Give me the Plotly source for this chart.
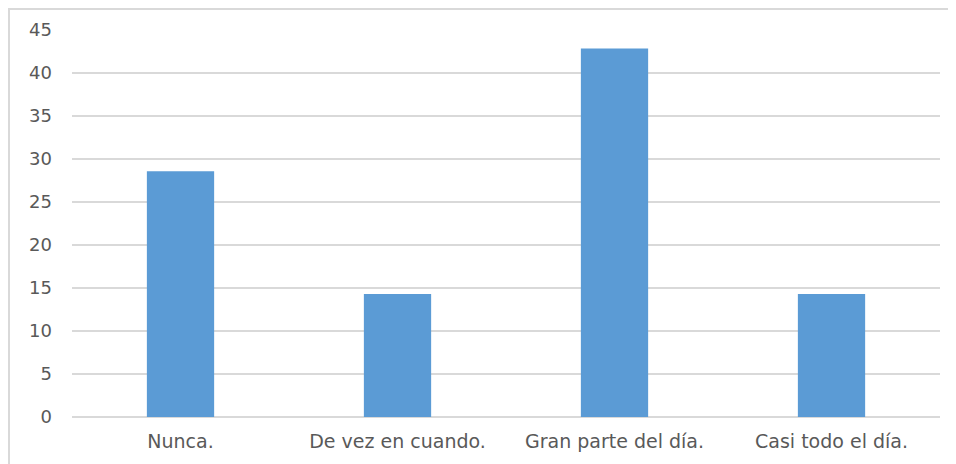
import plotly.graph_objects as go

categories = ["Nunca.", "De vez en cuando.", "Gran parte del día.", "Casi todo el día."]
values = [28.57, 14.29, 42.86, 14.29]
y_ticks = [0, 5, 10, 15, 20, 25, 30, 35, 40, 45]

# page is offset by the default 8px body margin
L, R, T, B = 64, 24, 22, 55
W, H = 956, 464
pw, ph = W - L - R, H - T - B

fig = go.Figure(go.Bar(x=categories, y=values, marker=dict(color="#5b9bd5", line=dict(width=0)), width=0.31))

fig.update_layout(
    width=W, height=H,
    margin=dict(l=L, r=R, t=T, b=B),
    paper_bgcolor="white", plot_bgcolor="white",
    font=dict(family="DejaVu Sans", size=18, color="#595959"),
    showlegend=False,
    bargap=0.69,
    xaxis=dict(showgrid=False, showline=False, ticks="", ticklabelstandoff=11,
               tickfont=dict(size=19, color="#595959")),
    yaxis=dict(range=[0, 45], tickvals=y_ticks, showgrid=True, gridcolor="#d9d9d9", gridwidth=1.5,
               zeroline=True, zerolinecolor="#d9d9d9", zerolinewidth=1.5, showline=False, ticks="",
               ticklabelstandoff=19, tickfont=dict(size=18, color="#595959")),
    shapes=[dict(type="rect", xref="paper", yref="paper",
                 x0=(1 - L) / pw, x1=(W + 5 - L) / pw,
                 y0=(T + ph - (H + 5)) / ph, y1=(T + ph - 1) / ph,
                 line=dict(color="#d9d9d9", width=2), fillcolor="rgba(0,0,0,0)", layer="below")],
)

fig.write_html("out.html")
